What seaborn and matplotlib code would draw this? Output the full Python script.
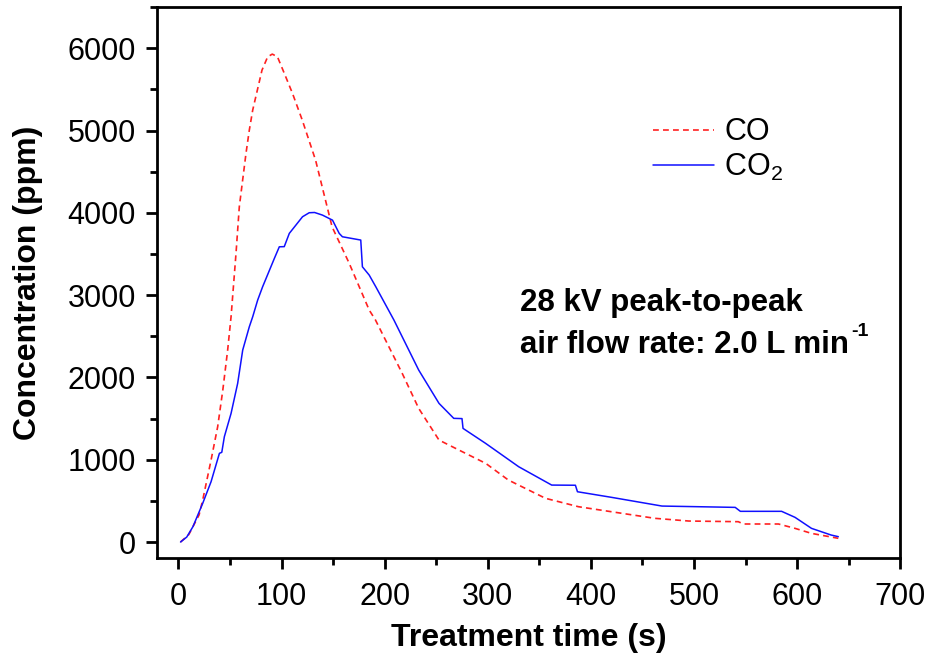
import numpy as np
import pandas as pd
import seaborn as sns
import matplotlib.pyplot as plt
from matplotlib.ticker import MultipleLocator

# CO trace (red dashed)
co_time = [2, 10, 20, 23.5, 31.6, 38, 43, 47.7, 51, 55.8, 59, 65.5, 68.7, 72, 81,
           86.5, 91, 96, 104, 110.6, 120, 133, 149, 165.5, 185, 191, 217, 233,
           252.7, 272, 298, 320, 356, 388, 420, 462, 495, 543, 548, 582, 598,
           614, 640]
co_ppm = [0, 90, 330, 510, 996, 1400, 1847, 2333, 2738, 3508, 4075, 4725, 5006,
          5250, 5735, 5897, 5930, 5897, 5655, 5452, 5130, 4640, 3830, 3390,
          2819, 2700, 2050, 1624, 1239, 1118, 956, 753, 531, 429, 368, 288, 255,
          247, 219, 219, 166, 105, 45]

# CO2 trace (blue solid)
co2_time = [2, 8, 14, 23.5, 31.6, 39.7, 42, 44.5, 51, 57.4, 62.3, 68.7, 72, 76.8,
            81.6, 93, 97.8, 102.6, 107.5, 120.3, 126.8, 132, 139.7, 149.4, 155.9,
            159, 176.8, 178.4, 185, 191.4, 209, 233, 252.7, 267, 275, 276, 297.9,
            330, 362, 385, 387, 420, 469, 540, 545, 585, 598, 614, 633, 640]
co2_ppm = [0, 60, 186, 470, 733, 1078, 1090, 1280, 1563, 1928, 2333, 2616, 2738,
           2940, 3102, 3447, 3588, 3590, 3751, 3953, 4002, 4005, 3973, 3912, 3751,
           3710, 3670, 3345, 3244, 3102, 2697, 2090, 1685, 1503, 1500, 1381, 1199,
           915, 692, 690, 611, 543, 437, 421, 373, 373, 300, 166, 85, 65]

sns.set_style("ticks", {"axes.edgecolor": "black", "text.color": "black",
                        "axes.labelcolor": "black", "xtick.color": "black",
                        "ytick.color": "black"})
plt.rcParams['font.family'] = ['Liberation Sans', 'DejaVu Sans']
plt.rcParams['mathtext.default'] = 'regular'
plt.rcParams['axes.unicode_minus'] = False

co = pd.DataFrame({"t": co_time, "c": co_ppm})
co2 = pd.DataFrame({"t": co2_time, "c": co2_ppm})

fig = plt.figure(figsize=(9.28, 6.55), dpi=100)
ax = fig.add_axes([0.169, 0.148, 0.801, 0.841])

sns.lineplot(data=co, x="t", y="c", ax=ax, color="#ff2020", lw=1.2,
             label="CO", linestyle=(0, (3.5, 2.5)))
sns.lineplot(data=co2, x="t", y="c", ax=ax, color="#1010ff", lw=1.1,
             label="CO$_2$")

ax.set_xlim(-21, 700)
ax.set_ylim(-195, 6500)
ax.xaxis.set_major_locator(MultipleLocator(100))
ax.xaxis.set_minor_locator(MultipleLocator(50))
ax.yaxis.set_major_locator(MultipleLocator(1000))
ax.yaxis.set_minor_locator(MultipleLocator(500))
ax.tick_params(which='major', length=8, width=2, labelsize=22, pad=7)
ax.tick_params(which='minor', length=5, width=2)
ax.tick_params(axis='x', pad=9)
for s in ax.spines.values():
    s.set_linewidth(2)
    s.set_visible(True)

ax.set_xlabel("Treatment time (s)", fontsize=23, fontweight='bold', labelpad=8)
ax.set_ylabel("Concentration (ppm)", fontsize=23, fontweight='bold', labelpad=18)

leg = ax.legend(loc='upper left', bbox_to_anchor=(0.63, 0.85), frameon=False,
                fontsize=22, handlelength=2.0, handletextpad=0.35, labelspacing=0.15)

ax.text(331, 2900, "28 kV peak-to-peak", fontsize=22.5, fontweight='bold',
        va='center', ha='left')
t2 = ax.text(331, 2400, "air flow rate: 2.0 L min", fontsize=22.5,
             fontweight='bold', va='center', ha='left')
# superscript drawn with a plain hyphen, as in the original
ax.annotate("-1", xy=(1, 0.95), xycoords=t2, xytext=(2, 0),
            textcoords='offset points', fontsize=14, fontweight='bold',
            va='center', ha='left')

fig.savefig("out.png", dpi=100)
